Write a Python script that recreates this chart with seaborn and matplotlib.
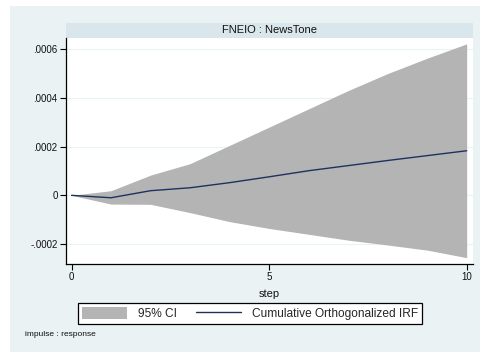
import numpy as np
import pandas as pd
import matplotlib
matplotlib.use("Agg")
import matplotlib.pyplot as plt
from matplotlib.patches import Rectangle
import seaborn as sns

# Cumulative orthogonalized impulse response FNEIO -> NewsTone
step = [0, 1, 2, 3, 4, 5, 6, 7, 8, 9, 10]
irf = [0.0, -0.00001, 0.000019, 0.000031, 0.000052, 0.000076,
       0.000101, 0.000122, 0.000143, 0.000163, 0.000183]
ci_upper = [0.0, 0.000019, 0.000083, 0.00013, 0.000205, 0.00028,
            0.000355, 0.00043, 0.0005, 0.000563, 0.000622]
ci_lower = [0.0, -0.000036, -0.000037, -0.000071, -0.000108, -0.000136,
            -0.00016, -0.000184, -0.000204, -0.000225, -0.000256]

y_ticks = [-0.0002, 0, 0.0002, 0.0004, 0.0006]
y_tick_labels = ["-.0002", "0", ".0002", ".0004", ".0006"]
x_ticks = [0, 5, 10]

df = pd.DataFrame({"step": step, "irf": irf, "lo": ci_lower, "hi": ci_upper})

sns.set_theme(style="white")
plt.rcParams["font.family"] = ["Liberation Sans", "DejaVu Sans"]

W, H = 481, 352
fig = plt.figure(figsize=(W / 100, H / 100), dpi=100)
fig.patch.set_facecolor("white")

# outer graph region
bg = "#EAF2F3"
fig.patches.append(Rectangle((10 / W, 0), 1 - 10 / W, 1 - 6 / H,
                             transform=fig.transFigure, facecolor=bg,
                             edgecolor="none", zorder=0))

# plot region in pixel edges (from the top-left corner)
px_left, px_right, px_top, px_bottom = 66, 473, 38, 264
ax = fig.add_axes([px_left / W, 1 - px_bottom / H,
                   (px_right - px_left) / W, (px_bottom - px_top) / H])
ax.set_zorder(5)
ax.set_facecolor("white")

# title strip above the plot
strip_h = 15 / H
fig.patches.append(Rectangle((px_left / W, 1 - px_top / H),
                             (px_right - px_left) / W, strip_h,
                             transform=fig.transFigure, facecolor="#D9E6EB",
                             edgecolor="none", zorder=1))
fig.text((px_left + px_right) / 2 / W, 1 - px_top / H + strip_h / 2,
         "FNEIO : NewsTone", ha="center", va="center", fontsize=8,
         color="#111111", zorder=6)

ax.fill_between(df["step"], df["lo"], df["hi"], color="#B4B4B4",
                linewidth=0, label="95% CI", zorder=2)
sns.lineplot(data=df, x="step", y="irf", ax=ax, color="#1E3160",
             linewidth=1.0, label="Cumulative Orthogonalized IRF", zorder=3)

ax.set_xlim(-0.14, 10.16)
ax.set_ylim(-0.000282, 0.000646)
ax.set_yticks(y_ticks)
ax.set_yticklabels(y_tick_labels)
ax.set_xticks(x_ticks)
ax.set_xticklabels([str(v) for v in x_ticks])
for yv in y_ticks:
    ax.axhline(yv, color="#EAF2F3", linewidth=0.8, zorder=1)

for s in ["top", "right"]:
    ax.spines[s].set_visible(False)
for s in ["left", "bottom"]:
    ax.spines[s].set_color("black")
    ax.spines[s].set_linewidth(0.9)
ax.tick_params(axis="both", which="both", direction="out", length=4,
               width=0.8, color="black", labelsize=7, labelcolor="#111111",
               left=True, bottom=True, pad=2)
ax.set_xlabel("step", fontsize=8, labelpad=5, color="#111111")
ax.set_ylabel("")

handles, labels = ax.get_legend_handles_labels()
ax.get_legend().remove()
leg = fig.legend(handles, labels, loc="center",
                 bbox_to_anchor=(250 / W, 1 - 313.5 / H), ncol=2,
                 fontsize=8.6, frameon=True, fancybox=False,
                 edgecolor="black", facecolor="white", framealpha=1,
                 handlelength=3.8, handleheight=1.2, handletextpad=0.9,
                 columnspacing=1.6, borderpad=0.3, borderaxespad=0)
leg.get_frame().set_linewidth(0.9)
leg.set_zorder(6)

fig.text(25 / W, 1 - 335 / H, "impulse : response", ha="left",
         va="center", fontsize=6, color="#111111", zorder=6)

fig.savefig("out.png", dpi=100)
